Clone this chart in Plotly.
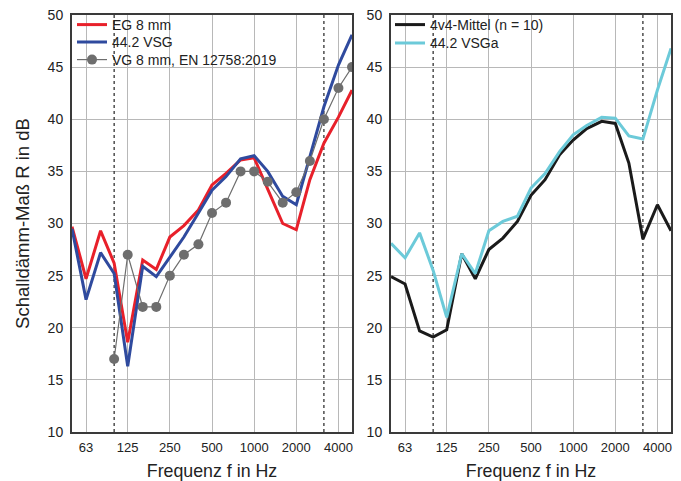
import plotly.graph_objects as go
import math

freqs = [50, 63, 80, 100, 125, 160, 200, 250, 315, 400, 500, 630, 800, 1000,
         1250, 1600, 2000, 2500, 3150, 4000, 5000]

eg8 = [29.7, 24.7, 29.3, 26.2, 18.6, 26.5, 25.6, 28.7, 29.8, 31.3, 33.7, 34.8,
       36.1, 36.3, 33.3, 30.0, 29.4, 34.2, 37.7, 40.2, 42.8]
vsg442 = [29.5, 22.7, 27.2, 25.2, 16.3, 25.9, 24.9, 26.8, 28.7, 31.0, 33.2, 34.5,
          36.2, 36.5, 35.0, 32.6, 31.8, 36.4, 41.2, 45.2, 48.1]
vg_freqs = [100, 125, 160, 200, 250, 315, 400, 500, 630, 800, 1000, 1250, 1600,
            2000, 2500, 3150, 4000, 5000]
vg8 = [17, 27, 22, 22, 25, 27, 28, 31, 32, 35, 35, 34, 32, 33, 36, 40, 43, 45]

mittel = [24.9, 24.2, 19.7, 19.1, 19.8, 27.1, 24.7, 27.5, 28.6, 30.2, 32.7, 34.2,
          36.6, 38.0, 39.1, 39.8, 39.6, 35.8, 28.5, 31.8, 29.3]
vsga = [28.1, 26.7, 29.1, 25.5, 21.0, 27.1, 25.2, 29.3, 30.2, 30.7, 33.4, 34.8,
        36.9, 38.5, 39.4, 40.2, 40.1, 38.4, 38.1, 42.8, 46.8]

tick_vals = [63, 125, 250, 500, 1000, 2000, 4000]
tick_text = ["63", "125", "250", "500", "1000", "2000", "4000"]
dotted_freqs = [100, 3150]

FONT = "Liberation Sans, Arial, sans-serif"
W, H = 681, 481
PT, PB = 15, 432  # plot area top / bottom in pixels


def py(p):
    """pixel row -> paper y"""
    return (PB - p) / (PB - PT)


fig = go.Figure()
fig.add_trace(go.Scatter(x=freqs, y=eg8, mode="lines", name="EG 8 mm",
                         line=dict(color="#e8202a", width=3), xaxis="x", yaxis="y",
                         legend="legend"))
fig.add_trace(go.Scatter(x=freqs, y=vsg442, mode="lines", name="44.2 VSG",
                         line=dict(color="#2f4a9e", width=3), xaxis="x", yaxis="y",
                         legend="legend3"))
fig.add_trace(go.Scatter(x=vg_freqs, y=vg8, mode="lines+markers",
                         name="VG 8 mm, EN 12758:2019",
                         line=dict(color="#6e6e6e", width=1.2),
                         marker=dict(color="#6e6e6e", size=10),
                         xaxis="x", yaxis="y", legend="legend4"))
fig.add_trace(go.Scatter(x=freqs, y=mittel, mode="lines", name="4v4-Mittel (n = 10)",
                         line=dict(color="#1a1a1a", width=3), xaxis="x2", yaxis="y2",
                         legend="legend2"))
fig.add_trace(go.Scatter(x=freqs, y=vsga, mode="lines", name="44.2 VSGa",
                         line=dict(color="#6ccad9", width=3), xaxis="x2", yaxis="y2",
                         legend="legend5"))

xr = [math.log10(50), math.log10(5000)]
xdom1 = [72 / W, 352 / W]
xdom2 = [391 / W, 671 / W]

axis_common = dict(showline=True, linecolor="#3a3a3a", linewidth=2, mirror=True,
                   showgrid=True, gridcolor="#b8b8b8", gridwidth=1.3, zeroline=False,
                   ticks="", tickfont=dict(family=FONT, size=14, color="#222"))

xcommon = dict(axis_common, type="log", range=xr, tickmode="array",
               tickvals=tick_vals, ticktext=tick_text, ticklabelstandoff=2,
               tickfont=dict(family=FONT, size=13, color="#222"),
               title=dict(text="Frequenz f in Hz", font=dict(family=FONT, size=17.8, color="#222"),
                          standoff=12))
ycommon = dict(axis_common, range=[10, 50], tickmode="array",
               tickvals=list(range(10, 51, 5)), ticklabelstandoff=4)


def leg(xpx, ypx):
    return dict(x=xpx / W, y=py(ypx), xanchor="left", yanchor="middle",
                bgcolor="rgba(255,255,255,0)", borderwidth=0,
                font=dict(family=FONT, size=14, color="#222"), itemwidth=30)


fig.update_layout(
    width=W, height=H,
    margin=dict(l=0, r=0, t=PT, b=H - PB),
    paper_bgcolor="white", plot_bgcolor="white",
    xaxis=dict(xcommon, domain=xdom1, anchor="y"),
    yaxis=dict(ycommon, domain=[0, 1], anchor="x",
               title=dict(text="Schalldämm-Maß R in dB",
                          font=dict(family=FONT, size=18.5, color="#222"), standoff=13)),
    xaxis2=dict(xcommon, domain=xdom2, anchor="y2"),
    yaxis2=dict(ycommon, domain=[0, 1], anchor="x2"),
    legend=leg(72, 25),
    legend3=leg(72, 42.3),
    legend4=leg(72, 60),
    legend2=leg(390, 25),
    legend5=leg(390, 43.3),
    showlegend=True,
)

for xref, yref in [("x", "y"), ("x2", "y2")]:
    for f in dotted_freqs:
        fig.add_shape(type="line", xref=xref, yref=yref, x0=f, x1=f, y0=10, y1=50,
                      line=dict(color="#222", width=1.2, dash="dot"), layer="between")

# white backing behind legend entries (as in the original)
for (x0, x1, y0, y1) in [(75, 172, 17, 51), (75, 272, 51, 69),
                         (393, 541, 17, 34), (393, 498, 34, 53)]:
    fig.add_shape(type="rect", xref="paper", yref="paper",
                  x0=x0 / W, x1=x1 / W, y0=py(y1), y1=py(y0),
                  fillcolor="white", line=dict(width=0), layer="between")

fig.write_html("out.html")
